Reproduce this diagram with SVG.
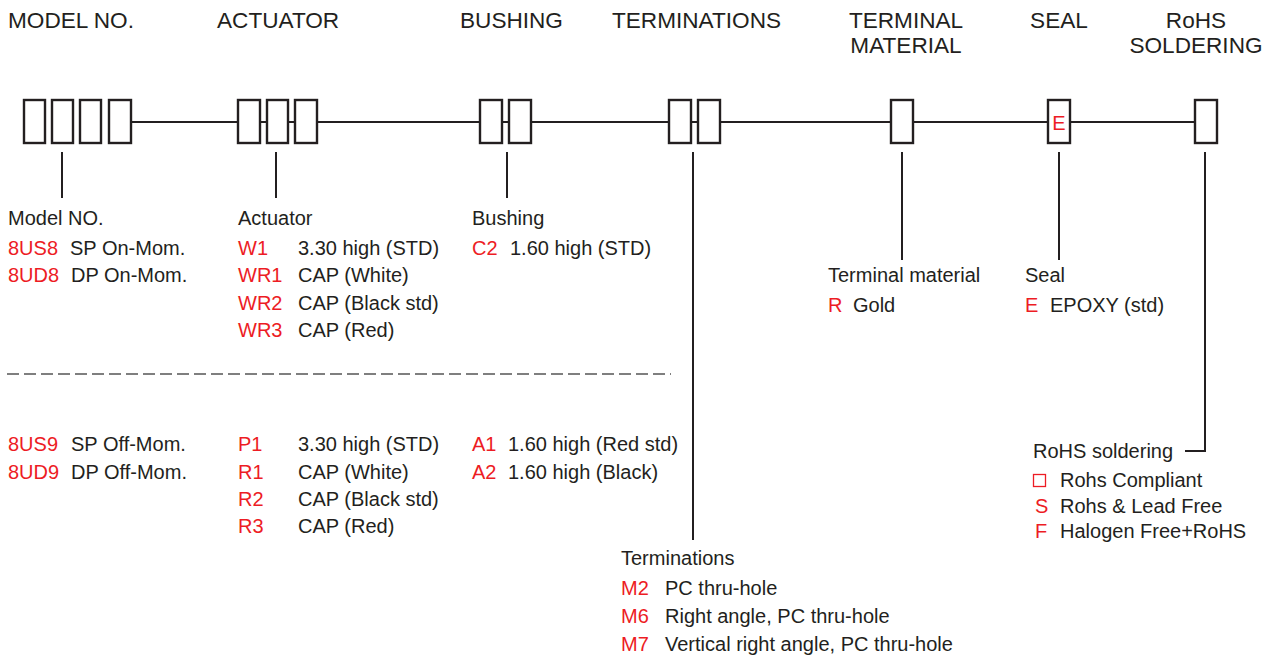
<svg xmlns="http://www.w3.org/2000/svg" width="1275" height="659" viewBox="0 0 1275 659">
<style>
text{font-family:"Liberation Sans",Arial,Helvetica,sans-serif;fill:#231f20}
.t{font-size:22.6px}
.b{font-size:20px}
.r{fill:#ed1c24}
.box{fill:#fff;stroke:#231f20;stroke-width:2.4}
.ln{stroke:#231f20;stroke-width:2;fill:none}
.dash{stroke:#555;stroke-width:1.6;stroke-dasharray:12 5;fill:none}
</style>
<rect width="1275" height="659" fill="#fff"/>
<g id="titles">
<text class="t" x="8" y="28">MODEL NO.</text>
<text class="t" x="217" y="28">ACTUATOR</text>
<text class="t" x="460" y="28">BUSHING</text>
<text class="t" x="612" y="28">TERMINATIONS</text>
<text class="t" x="906" y="28" text-anchor="middle">TERMINAL</text>
<text class="t" x="906" y="53" text-anchor="middle">MATERIAL</text>
<text class="t" x="1059" y="28" text-anchor="middle">SEAL</text>
<text class="t" x="1196" y="28" text-anchor="middle">RoHS</text>
<text class="t" x="1196" y="53" text-anchor="middle">SOLDERING</text>
</g>
<g id="connectors">
<line class="ln" x1="131" y1="122" x2="1195" y2="122"/>
<line class="ln" x1="62" y1="152" x2="62" y2="198"/>
<line class="ln" x1="276" y1="152" x2="276" y2="198"/>
<line class="ln" x1="507" y1="152" x2="507" y2="198"/>
<line class="ln" x1="693" y1="152" x2="693" y2="540"/>
<line class="ln" x1="902" y1="152" x2="902" y2="260"/>
<line class="ln" x1="1059" y1="152" x2="1059" y2="260"/>
<polyline class="ln" points="1205,152 1205,451 1185,451"/>
<line class="dash" x1="7" y1="374" x2="671" y2="374"/>
</g>
<g id="model-boxes">
<rect class="box" x="24" y="100" width="21" height="43"/>
<rect class="box" x="52" y="100" width="21" height="43"/>
<rect class="box" x="80" y="100" width="21" height="43"/>
<rect class="box" x="109" y="100" width="22" height="43"/>
</g>
<g id="actuator-boxes">
<rect class="box" x="238" y="100" width="22" height="43"/>
<rect class="box" x="267" y="100" width="21" height="43"/>
<rect class="box" x="295" y="100" width="22" height="43"/>
</g>
<g id="bushing-boxes">
<rect class="box" x="480" y="100" width="22" height="43"/>
<rect class="box" x="509" y="100" width="22" height="43"/>
</g>
<g id="terminations-boxes">
<rect class="box" x="669" y="100" width="22" height="43"/>
<rect class="box" x="698" y="100" width="22" height="43"/>
</g>
<g id="terminal-material-box">
<rect class="box" x="891" y="100" width="22" height="43"/>
</g>
<g id="seal-box">
<rect class="box" x="1048" y="100" width="22" height="43"/>
<text class="b r" x="1059" y="130" text-anchor="middle">E</text>
</g>
<g id="rohs-box">
<rect class="box" x="1195" y="100" width="22" height="43"/>
</g>
<g id="model-options">
<text class="b" x="8" y="225">Model NO.</text>
<text class="b r" x="8" y="255">8US8</text><text class="b" x="70" y="255">SP On-Mom.</text>
<text class="b r" x="8" y="282">8UD8</text><text class="b" x="71" y="282">DP On-Mom.</text>
<text class="b r" x="8" y="451">8US9</text><text class="b" x="71" y="451">SP Off-Mom.</text>
<text class="b r" x="8" y="479">8UD9</text><text class="b" x="71" y="479">DP Off-Mom.</text>
</g>
<g id="actuator-options">
<text class="b" x="238" y="225">Actuator</text>
<text class="b r" x="238" y="255">W1</text><text class="b" x="298" y="255">3.30 high (STD)</text>
<text class="b r" x="238" y="282">WR1</text><text class="b" x="298" y="282">CAP (White)</text>
<text class="b r" x="238" y="310">WR2</text><text class="b" x="298" y="310">CAP (Black std)</text>
<text class="b r" x="238" y="337">WR3</text><text class="b" x="298" y="337">CAP (Red)</text>
<text class="b r" x="238" y="451">P1</text><text class="b" x="298" y="451">3.30 high (STD)</text>
<text class="b r" x="238" y="479">R1</text><text class="b" x="298" y="479">CAP (White)</text>
<text class="b r" x="238" y="506">R2</text><text class="b" x="298" y="506">CAP (Black std)</text>
<text class="b r" x="238" y="533">R3</text><text class="b" x="298" y="533">CAP (Red)</text>
</g>
<g id="bushing-options">
<text class="b" x="472" y="225">Bushing</text>
<text class="b r" x="472" y="255">C2</text><text class="b" x="510" y="255">1.60 high (STD)</text>
<text class="b r" x="472" y="451">A1</text><text class="b" x="508" y="451">1.60 high (Red std)</text>
<text class="b r" x="472" y="479">A2</text><text class="b" x="508" y="479">1.60 high (Black)</text>
</g>
<g id="terminations-options">
<text class="b" x="621" y="565">Terminations</text>
<text class="b r" x="621" y="595">M2</text><text class="b" x="665" y="595">PC thru-hole</text>
<text class="b r" x="621" y="623">M6</text><text class="b" x="665" y="623">Right angle, PC thru-hole</text>
<text class="b r" x="621" y="651">M7</text><text class="b" x="665" y="651">Vertical right angle, PC thru-hole</text>
</g>
<g id="terminal-material-options">
<text class="b" x="828" y="282">Terminal material</text>
<text class="b r" x="828" y="312">R</text><text class="b" x="853" y="312">Gold</text>
</g>
<g id="seal-options">
<text class="b" x="1025" y="282">Seal</text>
<text class="b r" x="1025" y="312">E</text><text class="b" x="1050" y="312">EPOXY (std)</text>
</g>
<g id="rohs-options">
<text class="b" x="1033" y="458">RoHS soldering</text>
<rect x="1033.5" y="474.5" width="12" height="12" fill="none" stroke="#ed1c24" stroke-width="1.3"/>
<text class="b" x="1060" y="487">Rohs Compliant</text>
<text class="b r" x="1035" y="513">S</text><text class="b" x="1060" y="513">Rohs &amp; Lead Free</text>
<text class="b r" x="1035" y="538">F</text><text class="b" x="1060" y="538">Halogen Free+RoHS</text>
</g>
</svg>
